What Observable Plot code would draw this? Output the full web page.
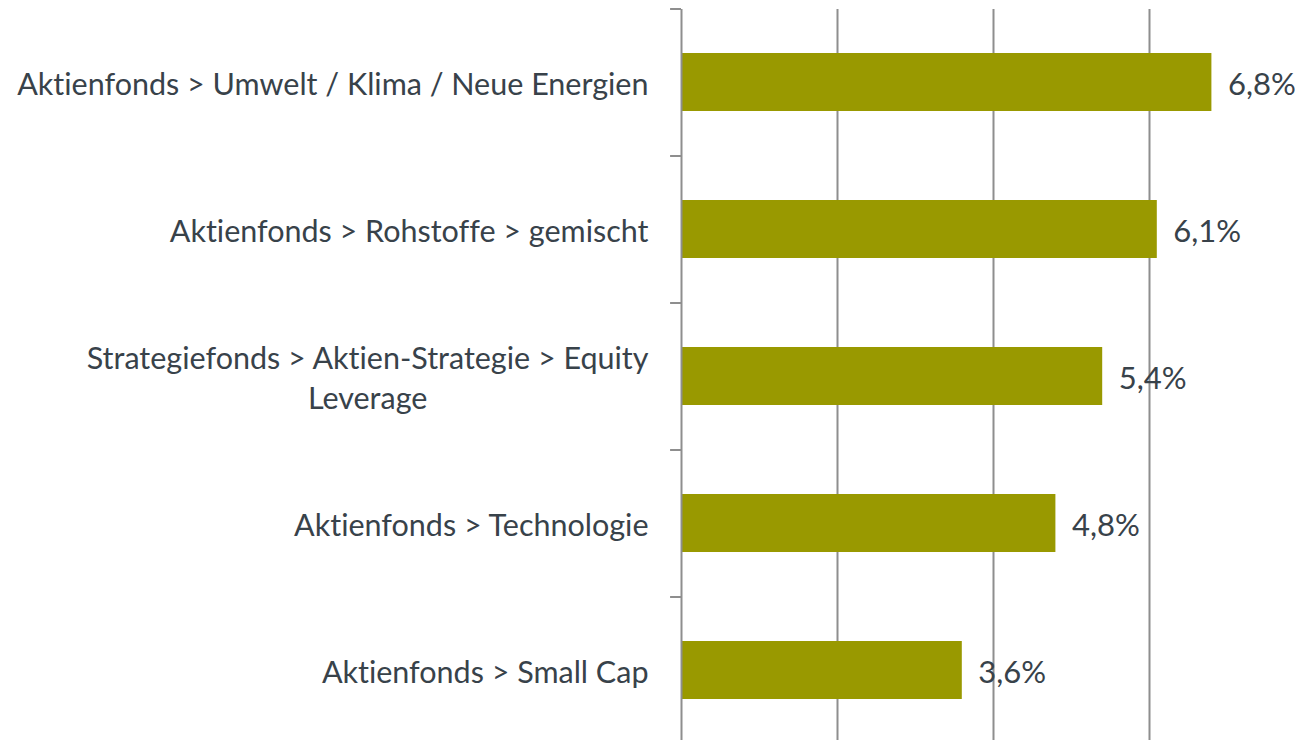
<!DOCTYPE html>
<html>
<head>
<meta charset="utf-8">
<script src="https://cdn.jsdelivr.net/npm/d3@7"></script>
<script src="https://cdn.jsdelivr.net/npm/@observablehq/plot@0.6"></script>
<style>
  html, body { margin: 0; padding: 0; background: #ffffff; }
  #chart { width: 1295px; height: 740px; overflow: hidden; }
  svg { display: block; }
  svg text { font-variant-ligatures: none; font-feature-settings: "liga" 0; }
</style>
</head>
<body>
<div id="chart"></div>
<script>
// ---- data ----
const categories = [
  "Aktienfonds > Umwelt / Klima / Neue Energien",
  "Aktienfonds > Rohstoffe > gemischt",
  "Strategiefonds > Aktien-Strategie > Equity\nLeverage",
  "Aktienfonds > Technologie",
  "Aktienfonds > Small Cap"
];
const values = [6.8, 6.1, 5.4, 4.8, 3.6];
const gridTicks = [2, 4, 6];

const data = categories.map((c, i) => ({category: c, value: values[i]}));
const fmt = v => v.toFixed(1).replace(".", ",") + "%";

const FONT = "Lato, 'Open Sans', sans-serif";
const TEXT = "#38424a";
const GRID = "#8e8e8e";
const BAR = "#999900";

const chart = Plot.plot({
  width: 1295,
  height: 740,
  marginTop: 9,
  marginBottom: 0,
  marginLeft: 681,
  marginRight: 0,
  style: {fontFamily: FONT, background: "#ffffff", overflow: "visible"},
  x: {domain: [0, 8], range: [681, 1305], axis: null},
  y: {domain: categories, range: [9, 744], paddingInner: 0.605, paddingOuter: 0.3025, axis: null},
  marks: [
    Plot.ruleX(gridTicks, {stroke: GRID, strokeWidth: 2}),
    Plot.barX(data, {x: "value", y: "category", fill: BAR}),
    Plot.ruleX([0], {stroke: GRID, strokeWidth: 2}),
    Plot.ruleY(categories, {y: d => d, x1: -0.14, x2: 0, dy: -73.5, stroke: GRID, strokeWidth: 2}),
    Plot.axisY({
      label: null,
      tickSize: 0,
      tickPadding: 33,
      fontSize: 30.5,
      lineHeight: 1.28,
      textAnchor: "end",
      fill: TEXT,
      tickFormat: d => d
    }),
    Plot.text(data, {
      x: "value", y: "category", text: d => fmt(d.value),
      textAnchor: "start", dx: 16, dy: 3, fontSize: 31, fill: TEXT
    })
  ]
});

document.getElementById("chart").appendChild(chart);

// center-align the wrapped category label, keeping its block right-aligned
chart.querySelectorAll("text").forEach(t => {
  const spans = t.querySelectorAll("tspan");
  if (spans.length > 1) {
    let w = 0;
    spans.forEach(s => { w = Math.max(w, s.getComputedTextLength()); });
    t.setAttribute("text-anchor", "middle");
    spans.forEach(s => {
      const x0 = +(s.getAttribute("x") || 0);
      s.setAttribute("x", x0 - w / 2);
    });
  }
});
</script>
</body>
</html>
